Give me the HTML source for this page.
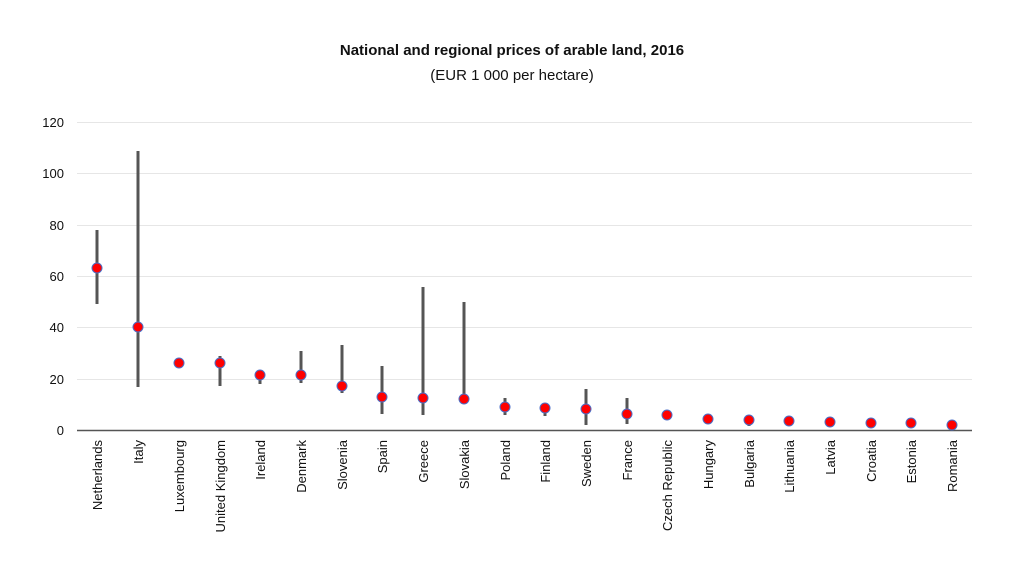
<!DOCTYPE html>
<html><head><meta charset="utf-8"><style>body{margin:0;background:#fff}svg{display:block}text{font-family:"Liberation Sans",sans-serif;fill:#111}</style></head><body>
<svg width="1024" height="567" xmlns="http://www.w3.org/2000/svg">
<text x="512" y="55" text-anchor="middle" font-size="15" font-weight="bold">National and regional prices of arable land, 2016</text>
<text x="512" y="80" text-anchor="middle" font-size="15">(EUR 1 000 per hectare)</text>
<g stroke="#e6e6e6" stroke-width="1">
<line x1="77" x2="972" y1="122.5" y2="122.5"/><line x1="77" x2="972" y1="173.5" y2="173.5"/><line x1="77" x2="972" y1="225.5" y2="225.5"/><line x1="77" x2="972" y1="276.5" y2="276.5"/><line x1="77" x2="972" y1="327.5" y2="327.5"/><line x1="77" x2="972" y1="379.5" y2="379.5"/>
</g>
<line x1="77" x2="972" y1="430.5" y2="430.5" stroke="#555" stroke-width="1.5"/>
<g font-size="13" text-anchor="end">
<text x="64" y="127">120</text><text x="64" y="178">100</text><text x="64" y="230">80</text><text x="64" y="281">60</text><text x="64" y="332">40</text><text x="64" y="384">20</text><text x="64" y="435">0</text>
</g>
<g stroke="#555" stroke-width="3">
<line x1="97" x2="97" y1="230" y2="304"/>
<line x1="138" x2="138" y1="151" y2="387"/>
<line x1="220" x2="220" y1="356" y2="386"/>
<line x1="260" x2="260" y1="370" y2="384"/>
<line x1="301" x2="301" y1="351" y2="383"/>
<line x1="342" x2="342" y1="345" y2="393"/>
<line x1="382" x2="382" y1="366" y2="414"/>
<line x1="423" x2="423" y1="287" y2="415"/>
<line x1="464" x2="464" y1="302" y2="403"/>
<line x1="505" x2="505" y1="398" y2="415"/>
<line x1="545" x2="545" y1="403" y2="416"/>
<line x1="586" x2="586" y1="389" y2="425"/>
<line x1="627" x2="627" y1="398" y2="424"/>
<line x1="749" x2="749" y1="416" y2="426"/>
</g>
<g fill="#f00" stroke="#4a6fc8" stroke-width="1">
<circle cx="97" cy="268" r="5"/><circle cx="138" cy="327" r="5"/><circle cx="179" cy="363" r="5"/><circle cx="220" cy="363" r="5"/><circle cx="260" cy="375" r="5"/><circle cx="301" cy="375" r="5"/><circle cx="342" cy="386" r="5"/><circle cx="382" cy="397" r="5"/><circle cx="423" cy="398" r="5"/><circle cx="464" cy="399" r="5"/><circle cx="505" cy="407" r="5"/><circle cx="545" cy="408" r="5"/><circle cx="586" cy="409" r="5"/><circle cx="627" cy="414" r="5"/><circle cx="667" cy="415" r="5"/><circle cx="708" cy="419" r="5"/><circle cx="749" cy="420" r="5"/><circle cx="789" cy="421" r="5"/><circle cx="830" cy="422" r="5"/><circle cx="871" cy="423" r="5"/><circle cx="911" cy="423" r="5"/><circle cx="952" cy="425" r="5"/>
</g>
<g font-size="13" text-anchor="end">
<text transform="translate(102,440) rotate(-90)">Netherlands</text>
<text transform="translate(143,440) rotate(-90)">Italy</text>
<text transform="translate(184,440) rotate(-90)">Luxembourg</text>
<text transform="translate(225,440) rotate(-90)">United Kingdom</text>
<text transform="translate(265,440) rotate(-90)">Ireland</text>
<text transform="translate(306,440) rotate(-90)">Denmark</text>
<text transform="translate(347,440) rotate(-90)">Slovenia</text>
<text transform="translate(387,440) rotate(-90)">Spain</text>
<text transform="translate(428,440) rotate(-90)">Greece</text>
<text transform="translate(469,440) rotate(-90)">Slovakia</text>
<text transform="translate(510,440) rotate(-90)">Poland</text>
<text transform="translate(550,440) rotate(-90)">Finland</text>
<text transform="translate(591,440) rotate(-90)">Sweden</text>
<text transform="translate(632,440) rotate(-90)">France</text>
<text transform="translate(672,440) rotate(-90)">Czech Republic</text>
<text transform="translate(713,440) rotate(-90)">Hungary</text>
<text transform="translate(754,440) rotate(-90)">Bulgaria</text>
<text transform="translate(794,440) rotate(-90)">Lithuania</text>
<text transform="translate(835,440) rotate(-90)">Latvia</text>
<text transform="translate(876,440) rotate(-90)">Croatia</text>
<text transform="translate(916,440) rotate(-90)">Estonia</text>
<text transform="translate(957,440) rotate(-90)">Romania</text>
</g>
</svg>
</body></html>
